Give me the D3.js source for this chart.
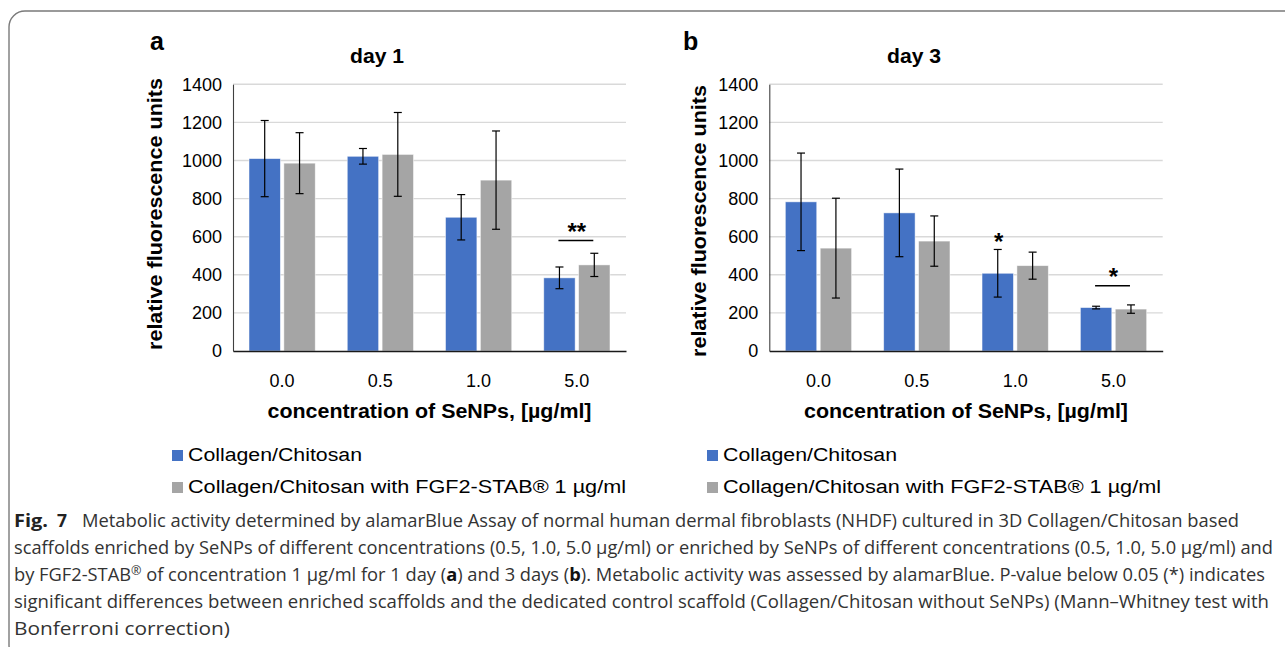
<!DOCTYPE html>
<html><head><meta charset="utf-8">
<script src="https://cdn.jsdelivr.net/npm/d3@7"></script>
<style>html,body{margin:0;padding:0;background:#fff;} svg{display:block;}</style>
</head><body>
<svg id="chart" width="1285" height="647"></svg>
<script>
// ---------- data ----------
const categories = ["0.0", "0.5", "1.0", "5.0"];
const seriesNames = ["Collagen/Chitosan", "Collagen/Chitosan with FGF2-STAB® 1 µg/ml"];
const seriesColors = ["#4472C4", "#A5A5A5"];
const yTicks = [0, 200, 400, 600, 800, 1000, 1200, 1400];

const day1Blue = [1010, 1022, 702, 384];
const day1BlueErr = [200, 41, 119, 57];
const day1Gray = [986, 1032, 897, 452];
const day1GrayErr = [160, 220, 258, 61];

const day3Blue = [783, 725, 408, 228];
const day3BlueErr = [256, 230, 125, 7];
const day3Gray = [540, 577, 448, 220];
const day3GrayErr = [262, 132, 71, 22];

// significance annotations
const day1Brackets = [{cat: "5.0", value: 580, label: "**"}];
const day1Stars = [];
const day3Brackets = [{cat: "5.0", value: 343, label: "*"}];
const day3Stars = [{cat: "1.0", series: 0, label: "*"}];

const captionLines = [
  "Metabolic activity determined by alamarBlue Assay of normal human dermal fibroblasts (NHDF) cultured in 3D Collagen/Chitosan based",
  "scaffolds enriched by SeNPs of different concentrations (0.5, 1.0, 5.0 µg/ml) or enriched by SeNPs of different concentrations (0.5, 1.0, 5.0 µg/ml) and",
  "significant differences between enriched scaffolds and the dedicated control scaffold (Collagen/Chitosan without SeNPs) (Mann–Whitney test with",
  "Bonferroni correction)"
];

// ---------- layout ----------
const svg = d3.select("#chart");
const FONT = "'Liberation Sans', Arial, Helvetica, sans-serif";
const CAPFONT = "'Open Sans', 'Noto Sans', sans-serif";
const yTop = 84.3, yBottom = 351;
const y = d3.scaleLinear().domain([0, 1400]).range([yBottom, yTop]);

// frame
svg.append("rect").attr("x", 9).attr("y", 11).attr("width", 1320).attr("height", 650)
  .attr("rx", 16).attr("ry", 16).attr("fill", "none").attr("stroke", "#7a7a7a").attr("stroke-width", 1.4);

const panels = [
  {letter: "a", letterX: 150, title: "day 1", titleX: 377, x0: 233, x1: 626, ytX: 162, ytY: 214,
   vals: [day1Blue, day1Gray], errs: [day1BlueErr, day1GrayErr], brackets: day1Brackets, stars: day1Stars,
   legX: 172},
  {letter: "b", letterX: 683, title: "day 3", titleX: 914, x0: 769.3, x1: 1162.7, ytX: 706, ytY: 221,
   vals: [day3Blue, day3Gray], errs: [day3BlueErr, day3GrayErr], brackets: day3Brackets, stars: day3Stars,
   legX: 707}
];

panels.forEach(p => {
  const g = svg.append("g");
  const x = d3.scaleBand().domain(categories).range([p.x0, p.x1]).padding(0);
  const bw = x.bandwidth();
  const xs = d3.scaleBand().domain([0, 1]).range([bw * 0.163, bw * 0.837]).paddingInner(0.1);

  // panel letter & title
  g.append("text").attr("x", p.letterX).attr("y", 50).attr("font-family", FONT)
    .attr("font-weight", "bold").attr("font-size", 25).attr("fill", "#000").text(p.letter);
  g.append("text").attr("x", p.titleX).attr("y", 63).attr("text-anchor", "middle").attr("font-family", FONT)
    .attr("font-weight", "bold").attr("font-size", 20).attr("textLength", 54).attr("lengthAdjust", "spacingAndGlyphs")
    .text(p.title);

  // gridlines
  g.selectAll(".grid").data(yTicks.filter(d => d > 0)).join("line")
    .attr("x1", p.x0).attr("x2", p.x1).attr("y1", d => y(d)).attr("y2", d => y(d))
    .attr("stroke", "#d9d9d9").attr("stroke-width", 1.4);

  // y axis
  const ya = g.append("g").attr("transform", `translate(${p.x0},0)`)
    .call(d3.axisLeft(y).tickValues(yTicks).tickSize(0).tickSizeOuter(0).tickPadding(11).tickFormat(d3.format("d")));
  ya.select(".domain").attr("stroke", "#404040").attr("stroke-width", 1.1);
  ya.selectAll("text").attr("font-family", FONT).attr("font-size", 18).attr("fill", "#000");

  // bars
  p.vals.forEach((vals, si) => {
    g.selectAll(".bar" + si).data(vals).join("rect")
      .attr("x", (d, i) => x(categories[i]) + xs(si))
      .attr("width", xs.bandwidth())
      .attr("y", d => y(d))
      .attr("height", d => y(0) - y(d))
      .attr("fill", seriesColors[si])
      .attr("stroke", "#ffffff").attr("stroke-opacity", 0.6).attr("stroke-width", 0.8);
  });

  // x axis
  const xa = g.append("g").attr("transform", `translate(0,${yBottom})`)
    .call(d3.axisBottom(x).tickSize(0).tickSizeOuter(0).tickPadding(23));
  xa.select(".domain").attr("stroke", "#1a1a1a").attr("stroke-width", 1.6);
  xa.selectAll("text").attr("font-family", FONT).attr("font-size", 18).attr("fill", "#000");

  // error bars
  p.vals.forEach((vals, si) => {
    const errs = p.errs[si];
    const eg = g.append("g").attr("stroke", "#000").attr("stroke-width", 1.2);
    vals.forEach((v, i) => {
      const cx = x(categories[i]) + xs(si) + xs.bandwidth() / 2;
      const hi = y(v + errs[i]), lo = y(v - errs[i]);
      eg.append("line").attr("x1", cx).attr("x2", cx).attr("y1", hi).attr("y2", lo);
      eg.append("line").attr("x1", cx - 4).attr("x2", cx + 4).attr("y1", hi).attr("y2", hi);
      eg.append("line").attr("x1", cx - 4).attr("x2", cx + 4).attr("y1", lo).attr("y2", lo);
    });
  });

  // brackets
  p.brackets.forEach(b => {
    const c0 = x(b.cat) + xs(0) + xs.bandwidth() / 2;
    const c1 = x(b.cat) + xs(1) + xs.bandwidth() / 2;
    g.append("line").attr("x1", c0 - 1).attr("x2", c1 - 1).attr("y1", y(b.value)).attr("y2", y(b.value))
      .attr("stroke", "#000").attr("stroke-width", 1.5);
    g.append("text").attr("x", (c0 + c1) / 2).attr("y", y(b.value) - 0.5).attr("text-anchor", "middle")
      .attr("font-family", FONT).attr("font-weight", "bold").attr("font-size", 24).text(b.label);
  });
  p.stars.forEach(s => {
    const i = categories.indexOf(s.cat);
    const cx = x(s.cat) + xs(s.series) + xs.bandwidth() / 2;
    const top = y(p.vals[s.series][i] + p.errs[s.series][i]);
    g.append("text").attr("x", cx + 1).attr("y", top + 1).attr("text-anchor", "middle")
      .attr("font-family", FONT).attr("font-weight", "bold").attr("font-size", 24).text(s.label);
  });

  // axis titles
  g.append("text").attr("transform", `translate(${p.ytX},${p.ytY}) rotate(-90)`).attr("text-anchor", "middle")
    .attr("font-family", FONT).attr("font-weight", "bold").attr("font-size", 20)
    .attr("textLength", 272).attr("lengthAdjust", "spacingAndGlyphs").text("relative fluorescence units");
  g.append("text").attr("x", (p.x0 + p.x1) / 2).attr("y", 418).attr("text-anchor", "middle")
    .attr("font-family", FONT).attr("font-weight", "bold").attr("font-size", 20)
    .attr("textLength", 324).attr("lengthAdjust", "spacingAndGlyphs").text("concentration of SeNPs, [µg/ml]");

  // legend
  const legY = [450, 482];
  const legBase = [461, 493];
  const legLen = [174, 438];
  seriesNames.forEach((name, si) => {
    g.append("rect").attr("x", p.legX).attr("y", legY[si]).attr("width", 11).attr("height", 11).attr("fill", seriesColors[si]);
    g.append("text").attr("x", p.legX + 16).attr("y", legBase[si]).attr("font-family", FONT).attr("font-size", 18)
      .attr("textLength", legLen[si]).attr("lengthAdjust", "spacingAndGlyphs").attr("fill", "#000").text(name);
  });
});

// ---------- caption ----------
const cap = svg.append("g").attr("font-family", CAPFONT).attr("font-size", 17.5).attr("fill", "#333");
cap.append("text").attr("x", 14).attr("y", 527).attr("font-weight", "bold").attr("fill", "#222")
  .attr("textLength", 34).attr("lengthAdjust", "spacingAndGlyphs").text("Fig.");
cap.append("text").attr("x", 57).attr("y", 527).attr("font-weight", "bold").attr("fill", "#222").text("7");
cap.append("text").attr("x", 82).attr("y", 527).attr("textLength", 1157).attr("lengthAdjust", "spacingAndGlyphs").text(captionLines[0]);
cap.append("text").attr("x", 14).attr("y", 554).attr("textLength", 1259).attr("lengthAdjust", "spacingAndGlyphs").text(captionLines[1]);
const l3 = cap.append("text").attr("x", 14).attr("y", 581).attr("textLength", 1251).attr("lengthAdjust", "spacingAndGlyphs");
l3.append("tspan").text("by FGF2-STAB");
l3.append("tspan").attr("dy", -6).attr("font-size", 12).text("®");
l3.append("tspan").attr("dy", 6).text(" of concentration 1 µg/ml for 1 day (");
l3.append("tspan").attr("font-weight", "bold").attr("fill", "#111").text("a");
l3.append("tspan").text(") and 3 days (");
l3.append("tspan").attr("font-weight", "bold").attr("fill", "#111").text("b");
l3.append("tspan").text("). Metabolic activity was assessed by alamarBlue. P-value below 0.05 (*) indicates");
cap.append("text").attr("x", 14).attr("y", 608).attr("textLength", 1255).attr("lengthAdjust", "spacingAndGlyphs").text(captionLines[2]);
cap.append("text").attr("x", 14).attr("y", 635).attr("textLength", 216).attr("lengthAdjust", "spacingAndGlyphs").text(captionLines[3]);
</script>
</body></html>
